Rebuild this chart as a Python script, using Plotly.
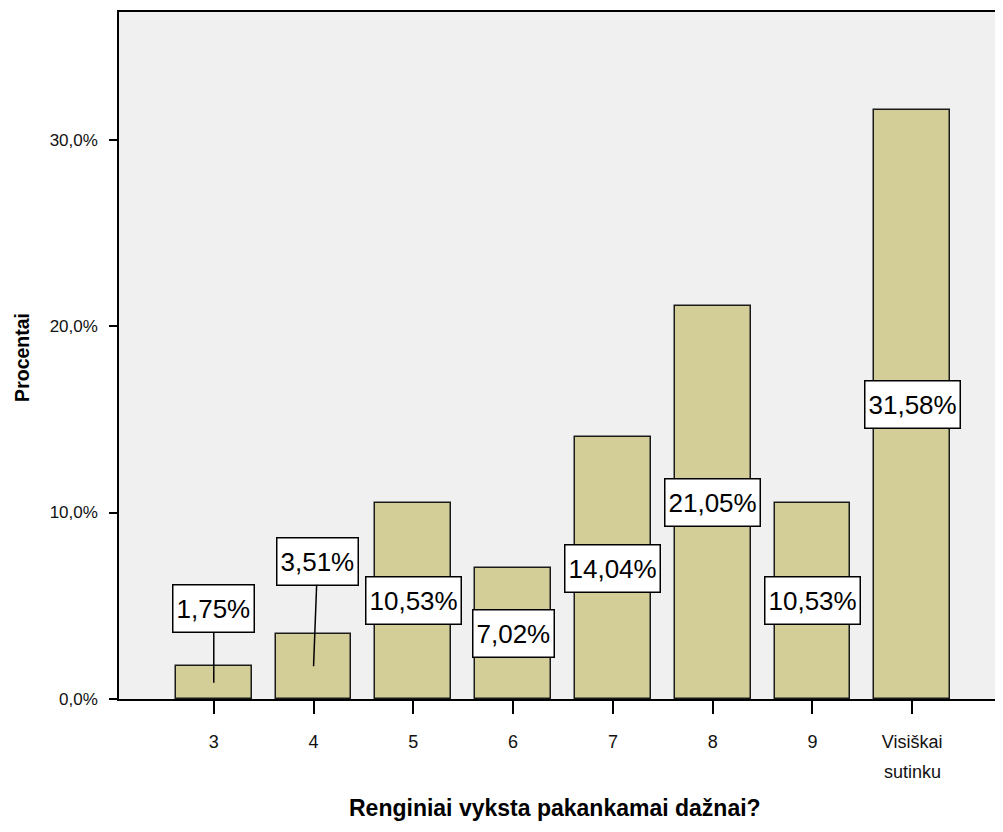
import plotly.graph_objects as go

categories = ["3", "4", "5", "6", "7", "8", "9", "Visiškai"]
category_second_line = ["", "", "", "", "", "", "", "sutinku"]
percent_values = [1.75, 3.51, 10.53, 7.02, 14.04, 21.05, 10.53, 31.58]
value_labels = ["1,75%", "3,51%", "10,53%", "7,02%", "14,04%", "21,05%", "10,53%", "31,58%"]
y_tick_vals = [0, 10, 20, 30]
y_tick_text = ["0,0%", "10,0%", "20,0%", "30,0%"]
x_title = "Renginiai vyksta pakankamai dažnai?"
y_title = "Procentai"

FONT = "Liberation Sans, Arial, sans-serif"
x_idx = list(range(len(categories)))

fig = go.Figure()
fig.add_trace(go.Bar(
    x=x_idx, y=percent_values, width=0.76,
    marker=dict(color="#D3CE97", line=dict(color="#1a1a1a", width=1.5)),
    hoverinfo="skip",
))

# label placement: mid-bar, except small bars which get a leader line
offsets = {0: (0.0, 4.83), 1: (0.04, 7.4)}
for i, (v, t) in enumerate(zip(percent_values, value_labels)):
    common = dict(text=t, font=dict(family=FONT, size=26, color="black"),
                  bgcolor="white", bordercolor="black", borderwidth=1.5,
                  borderpad=3, height=40)
    if i in offsets:
        dx, ty = offsets[i]
        fig.add_annotation(x=i, y=v / 2, ax=i + dx, ay=ty, axref="x", ayref="y",
                           xref="x", yref="y", showarrow=True, arrowhead=0,
                           arrowwidth=1.5, arrowcolor="black", standoff=0,
                           startstandoff=0, **common)
    else:
        fig.add_annotation(x=i, y=v / 2, xref="x", yref="y", showarrow=False, **common)

for i, s in enumerate(category_second_line):
    if s:
        fig.add_annotation(x=i, y=-0.106, xref="x", yref="paper", text=s,
                           showarrow=False, yanchor="middle",
                           font=dict(family=FONT, size=18, color="#111"))

fig.add_annotation(x=0.495, y=-0.158, xref="paper", yref="paper", text="<b>%s</b>" % x_title,
                   showarrow=False, yanchor="middle", xanchor="center",
                   font=dict(family=FONT, size=23, color="black"))
fig.add_annotation(x=-0.111, y=0.497, xref="paper", yref="paper", text="<b>%s</b>" % y_title,
                   showarrow=False, textangle=-90, xanchor="center", yanchor="middle",
                   font=dict(family=FONT, size=19.5, color="black"))

fig.update_layout(
    width=995, height=824,
    margin=dict(l=111, r=2, t=4, b=133),
    paper_bgcolor="white", plot_bgcolor="#F0F0F0",
    showlegend=False,
    bargap=0,
    xaxis=dict(range=[-0.95, 7.87], tickvals=x_idx, ticktext=categories,
               showgrid=False, zeroline=False, showline=True, linecolor="black",
               linewidth=1.5, mirror=True, ticks="outside", ticklen=13, tickwidth=2,
               tickcolor="black", ticklabelstandoff=13,
               tickfont=dict(family=FONT, size=18, color="#111")),
    yaxis=dict(range=[0, 36.84], tickvals=y_tick_vals, ticktext=y_tick_text,
               showgrid=False, zeroline=False, showline=True, linecolor="black",
               linewidth=1.5, mirror=True, ticks="outside", ticklen=8, tickwidth=2,
               tickcolor="black", ticklabelstandoff=8,
               tickfont=dict(family=FONT, size=17, color="#111")),
)

fig.write_html("out.html")
